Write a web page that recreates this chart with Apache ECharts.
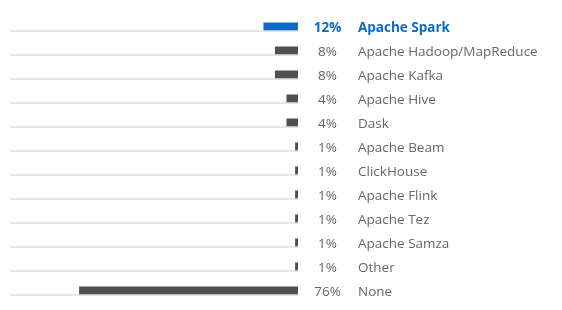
<!DOCTYPE html>
<html>
<head>
<meta charset="utf-8">
<script src="https://cdn.jsdelivr.net/npm/echarts@6/dist/echarts.min.js"></script>
<style>
  html, body { margin: 0; padding: 0; background: #fff; }
  #chart { width: 562px; height: 310px; }
</style>
</head>
<body>
<div id="chart"></div>
<script>
const categories = ['Apache Spark', 'Apache Hadoop/MapReduce', 'Apache Kafka', 'Apache Hive', 'Dask',
  'Apache Beam', 'ClickHouse', 'Apache Flink', 'Apache Tez', 'Apache Samza', 'Other', 'None'];
const shares = [12, 8, 8, 4, 4, 1, 1, 1, 1, 1, 1, 76];
const baseline = categories.map(() => 100);

const chart = echarts.init(document.getElementById('chart'));

const txt = { color: '#666', fontSize: 13.5, fontFamily: 'Open Sans' };
const hl = { color: '#0b6bc4', fontSize: 13.5, fontWeight: 'bold', fontFamily: 'Open Sans' };

chart.setOption({
  animation: false,
  grid: { left: 10, right: 264, top: 15, height: 288 },
  xAxis: { type: 'value', inverse: true, min: 0, max: 100, show: false },
  yAxis: {
    type: 'category',
    data: categories,
    inverse: true,
    position: 'right',
    axisLine: { show: false },
    axisTick: { show: false },
    axisLabel: {
      margin: 8,
      formatter: function (name, i) {
        const k = i === 0 ? 'hl' : '';
        return `{p${k}|${shares[i]}%}{n${k}|${name}}`;
      },
      rich: {
        p: Object.assign({ width: 43, align: 'right', padding: [3, 0, 0, 0] }, txt),
        n: Object.assign({ padding: [3, 0, 0, 9] }, txt),
        phl: Object.assign({ width: 43, align: 'right', padding: [3, 0, 0, 0] }, hl),
        nhl: Object.assign({ padding: [3, 0, 0, 9] }, hl)
      }
    }
  },
  series: [
    {
      type: 'bar',
      data: shares.map((v, i) => ({ value: v, itemStyle: { color: i === 0 ? '#0b6bc4' : '#505054' } })),
      barWidth: 8,
      barGap: '0%'
    },
    {
      type: 'bar',
      data: baseline,
      barWidth: 1,
      itemStyle: { color: '#cccccc' },
      silent: true
    }
  ]
});
</script>
</body>
</html>
